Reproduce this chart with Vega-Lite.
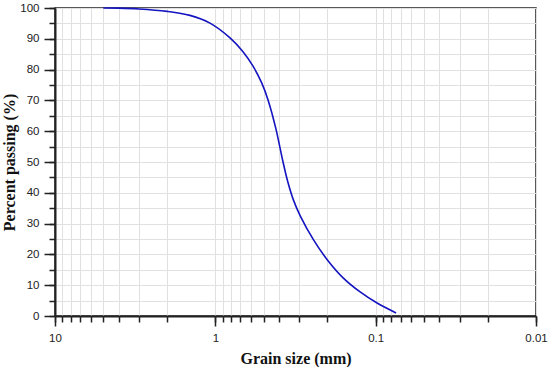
{
  "$schema": "https://vega.github.io/schema/vega-lite/v6.json",
  "width": 481,
  "height": 308,
  "autosize": "none",
  "padding": {"left": 55, "top": 8, "right": 14, "bottom": 51},
  "background": "white",
  "config": {
    "view": {"stroke": "#222222", "strokeWidth": 1.5},
    "axis": {"labelFont": "Liberation Sans", "labelFontSize": 11.5, "labelColor": "#222222", "titleFont": "Liberation Serif", "titleFontWeight": "bold", "titleFontSize": 16, "titleColor": "#111111"}
  },
  "data": {"values": [
    {"size": 5.0, "pct": 100},
    {"size": 4.0, "pct": 99.95},
    {"size": 3.0, "pct": 99.7},
    {"size": 2.0, "pct": 98.9},
    {"size": 1.44, "pct": 97.6},
    {"size": 1.08, "pct": 95.1},
    {"size": 0.81, "pct": 90.3},
    {"size": 0.672, "pct": 85.8},
    {"size": 0.582, "pct": 81.1},
    {"size": 0.513, "pct": 75.6},
    {"size": 0.468, "pct": 70.0},
    {"size": 0.42, "pct": 61.0},
    {"size": 0.38, "pct": 50.5},
    {"size": 0.355, "pct": 44.0},
    {"size": 0.326, "pct": 37.7},
    {"size": 0.296, "pct": 32.6},
    {"size": 0.244, "pct": 24.7},
    {"size": 0.2, "pct": 18.2},
    {"size": 0.159, "pct": 12.3},
    {"size": 0.125, "pct": 7.8},
    {"size": 0.098, "pct": 4.2},
    {"size": 0.0746, "pct": 1.0}
  ]},
  "resolve": {"axis": {"x": "independent", "y": "independent"}},
  "layer": [
    {
      "mark": {"type": "line", "opacity": 0},
      "encoding": {
        "x": {"field": "size", "type": "quantitative", "scale": {"type": "log", "domain": [0.01, 10], "reverse": true, "nice": false},
          "axis": {"orient": "bottom", "values": [0.01,0.02,0.03,0.04,0.05,0.06,0.07,0.08,0.09,0.1,0.2,0.3,0.4,0.5,0.6,0.7,0.8,0.9,1,2,3,4,5,6,7,8,9,10], "labels": false, "title": null, "domain": false, "grid": true, "gridColor": "#e0e0e0", "gridWidth": 1, "tickSize": 6, "tickColor": "#222222", "tickWidth": 1.5}},
        "y": {"field": "pct", "type": "quantitative", "scale": {"domain": [0, 100], "nice": false},
          "axis": {"orient": "left", "values": [0,5,10,15,20,25,30,35,40,45,50,55,60,65,70,75,80,85,90,95,100], "labels": false, "title": null, "domain": false, "grid": true, "gridColor": "#e0e0e0", "gridWidth": 1, "tickSize": 6, "tickColor": "#222222", "tickWidth": 1.5}}
      }
    },
    {
      "mark": {"type": "line", "color": "#1414c0", "strokeWidth": 1.6, "interpolate": "catmull-rom"},
      "encoding": {
        "x": {"field": "size", "type": "quantitative", "scale": {"type": "log", "domain": [0.01, 10], "reverse": true, "nice": false},
          "axis": {"orient": "bottom", "values": [0.01, 0.1, 1, 10], "labelExpr": "datum.value >= 1 ? format(datum.value, 'd') : format(datum.value, '')", "title": "Grain size (mm)", "grid": false, "domain": true, "domainColor": "#222222", "domainWidth": 2, "tickSize": 10, "tickColor": "#222222", "tickWidth": 1.5, "labelPadding": 6, "titlePadding": 7, "labelFlush": false}},
        "y": {"field": "pct", "type": "quantitative", "scale": {"domain": [0, 100], "nice": false},
          "axis": {"orient": "left", "values": [0,10,20,30,40,50,60,70,80,90,100], "title": "Percent passing (%)", "grid": false, "domain": true, "domainColor": "#222222", "domainWidth": 2, "tickSize": 11, "tickColor": "#222222", "tickWidth": 1.5, "labelPadding": 5, "titlePadding": 2, "labelFlush": false}}
      }
    }
  ]
}
